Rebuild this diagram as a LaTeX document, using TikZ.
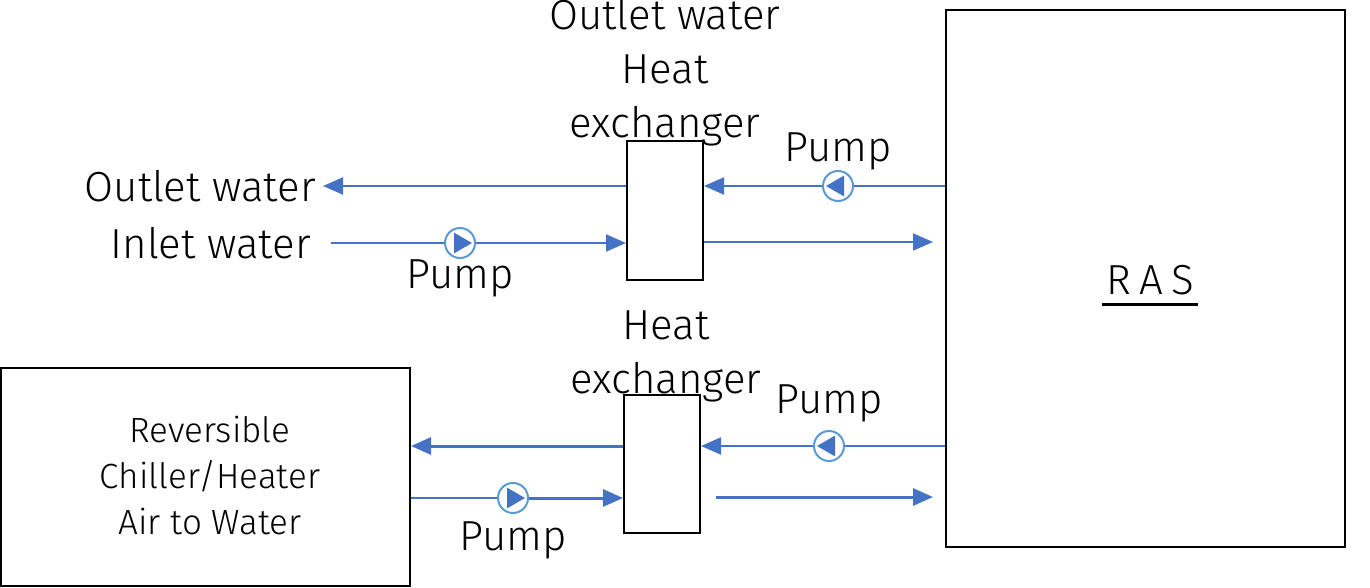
\documentclass[tikz,border=0pt]{standalone}
\usepackage{fontspec}
\setmainfont{Fira Sans}[UprightFont={* Light}]
\usetikzlibrary{arrows.meta,positioning}
\definecolor{flowblue}{RGB}{68,114,196}
\definecolor{pumpblue}{RGB}{91,155,213}

\begin{document}
\begin{tikzpicture}[
    x=1pt, y=-1pt,
    >={Triangle[length=20pt,width=17pt]},
    box/.style   = {draw, line width=2pt, inner sep=0pt},
    flow/.style  = {draw=flowblue, line width=2pt, ->},
    bold/.style  = {line width=3pt},
    pump/.style  = {draw=pumpblue, circle, line width=2pt, fill=white,
                    minimum size=30pt, inner sep=0pt,
                    path picture={\fill[flowblue, shift={(path picture bounding box.center)}]
                                  (#1:12pt) -- (#1+120:12pt) -- (#1+240:12pt) -- cycle;}},
    txt/.style   = {font=\fontsize{42}{54}\selectfont, align=center, inner sep=0pt},
    small/.style = {font=\fontsize{35}{46}\selectfont, align=center, inner sep=0pt},
  ]
	\useasboundingbox (0,0) rectangle (1370,588);
	
	% Kästen
	\node (ras)     at (1145.5,278.5) [box, minimum width=399pt, minimum height=537pt]{};
	\node (hxA)     at (665,210.5)    [box, minimum width=76pt,  minimum height=139pt]{};
	\node (hxB)     at (662,464)      [box, minimum width=76pt,  minimum height=138pt]{};
	\node (chiller) at (205.5,477)    [box, minimum width=409pt, minimum height=218pt]{};
	
	% Pumpen
	\node (pA) at (460,243) [pump=0]{};
	\node (pB) at (838,186) [pump=180]{};
	\node (pC) at (829,446) [pump=180]{};
	\node (pD) at (513,498) [pump=0]{};
	
	% Beschriftungen
	\node (rasL)  at (1146,294) [txt, anchor=base]{\addfontfeature{LetterSpace=20}RAS\kern-8pt};
	\draw[line width=3pt] (rasL.base west) ++(-4,10) -- ++(96,0);
	\node (hxAL)  at (665,138)  [txt, anchor=base]{Outlet water\\Heat\\exchanger};
	\node (hxBL)  at (666,393)  [txt, anchor=base]{Heat\\exchanger};
	\node (outW)  at (316,202)  [txt, anchor=base east]{Outlet water};
	\node (inW)   at (311,258)  [txt, anchor=base east]{Inlet water};
	\node (chL)   at (210,534)  [small, anchor=base]{Reversible\\Chiller/Heater\\Air to Water};
	\node (pAL) [txt, below=1pt of pA]{Pump};
	\node (pBL) [txt, above=0pt of pB]{Pump};
	\node (pCL) [txt, above=8pt of pC]{Pump};
	\node (pDL) [txt, below=8pt of pD]{Pump};
	
	% oberer Kreislauf
	\coordinate (outEnd)  at (323,186);
	\coordinate (inStart) at (331,243);
	\coordinate (rasInA)  at (933,242);
	\draw[flow] (hxA.west |- outEnd) -- (outEnd);
	\draw[flow,-] (inStart) -- (pA);
	\draw[flow] (pA) -- (hxA.west |- pA);
	\draw[flow,-] (ras.west |- pB) -- (pB);
	\draw[flow] (pB) -- (hxA.east |- pB);
	\draw[flow] (hxA.east |- rasInA) -- (rasInA);
	
	% unterer Kreislauf
	\coordinate (retStart) at (716,497);
	\coordinate (retEnd)   at (933,497);
	\draw[flow,bold] (hxB.west |- pC) -- (chiller.east |- pC);
	\draw[flow,-] (chiller.east |- pD) -- (pD);
	\draw[flow,bold] (pD) -- (hxB.west |- pD);
	\draw[flow,-] (ras.west |- pC) -- (pC);
	\draw[flow] (pC) -- (hxB.east |- pC);
	\draw[flow,bold] (retStart) -- (retEnd);
	
\end{tikzpicture}
\end{document}
